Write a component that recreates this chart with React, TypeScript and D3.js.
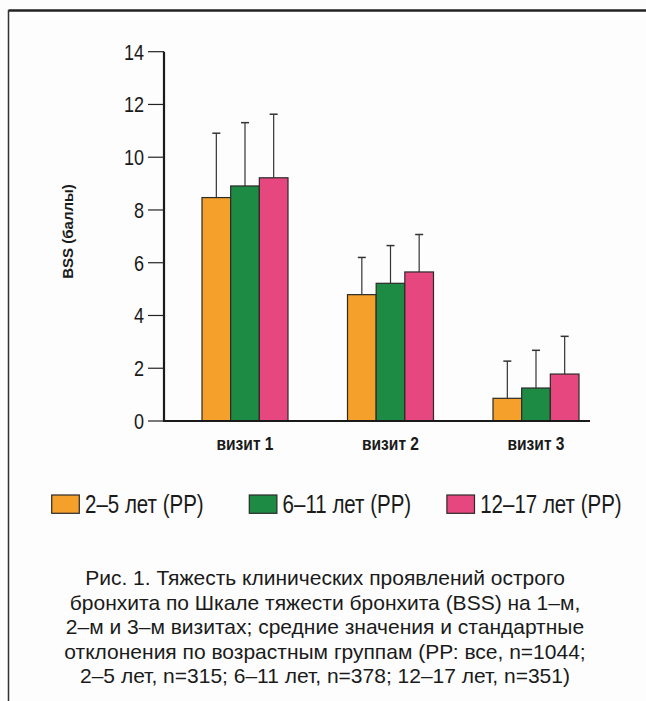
import * as d3 from "d3";

const VISITS = ["визит 1", "визит 2", "визит 3"];
const GROUPS = ["2–5 лет (РР)", "6–11 лет (РР)", "12–17 лет (РР)"];
const COLORS = ["#F4A02B", "#1E8B44", "#E6477E"];

// mean BSS per group, one value per visit
const MEANS = [
  [8.47, 4.79, 0.86],
  [8.91, 5.22, 1.25],
  [9.22, 5.65, 1.78],
];
// standard deviation per group, one value per visit
const SDS = [
  [2.44, 1.41, 1.41],
  [2.4, 1.43, 1.43],
  [2.41, 1.42, 1.43],
];

const Y_TICKS = [0, 2, 4, 6, 8, 10, 12, 14];

const CAPTION = [
  "Рис. 1. Тяжесть клинических проявлений острого",
  "бронхита по Шкале тяжести бронхита (BSS) на 1–м,",
  "2–м и 3–м визитах; средние значения и стандартные",
  "отклонения по возрастным группам (РР: все, n=1044;",
  "2–5 лет, n=315; 6–11 лет, n=378; 12–17 лет, n=351)",
];

const W = 646;
const H = 701;
const AXIS_X = 164;
const AXIS_END = 590;
const SANS = "'Liberation Sans', Arial, sans-serif";
const NARROW_K = 0.82; // no narrow font installed, squeeze horizontally

// condensed text helper
const Narrow = ({ x, y, anchor = "start", size, bold = false, dy, children }: any) => (
  <text
    transform={`translate(${x},${y}) scale(${NARROW_K},1)`}
    textAnchor={anchor}
    dy={dy}
    fontFamily={SANS}
    fontWeight={bold ? "bold" : "normal"}
    fontSize={size}
    fill="#1a1a1a"
  >
    {children}
  </text>
);

export default function App() {
  // scales
  const yScale = d3.scaleLinear().domain([0, 14]).range([421, 51.7]);
  const xScale = d3.scalePoint().domain(VISITS).range([245, 536]);
  const inner = d3.scaleBand().domain(GROUPS).range([-43, 43]);
  const bw = inner.bandwidth();

  const bars = GROUPS.flatMap((g, gi) =>
    VISITS.map((v, vi) => {
      const x = (xScale(v) ?? 0) + (inner(g) ?? 0);
      const m = MEANS[gi][vi];
      const top = yScale(m + SDS[gi][vi]);
      const cx = x + bw / 2;
      return (
        <g key={g + v}>
          <line x1={cx} x2={cx} y1={yScale(m)} y2={top} stroke="#333" strokeWidth={1.2} />
          <line x1={cx - 4} x2={cx + 4} y1={top} y2={top} stroke="#333" strokeWidth={1.5} />
          <rect
            x={x}
            y={yScale(m)}
            width={bw}
            height={yScale(0) - yScale(m)}
            fill={COLORS[gi]}
            stroke="#2a2a2a"
            strokeWidth={1.2}
          />
        </g>
      );
    })
  );

  const yTicks = Y_TICKS.map((t) => (
    <g key={t}>
      <line x1={148} x2={AXIS_X} y1={yScale(t)} y2={yScale(t)} stroke="#222" strokeWidth={1.2} />
      <Narrow x={144} y={yScale(t)} dy="0.36em" anchor="end" size={22}>
        {t}
      </Narrow>
    </g>
  ));

  const xLabels = VISITS.map((v) => (
    <Narrow key={v} x={xScale(v)} y={450} anchor="middle" size={19} bold>
      {v}
    </Narrow>
  ));

  const legend = GROUPS.map((g, i) => {
    const lx = 51.7 + i * 197.6;
    return (
      <g key={g}>
        <rect x={lx} y={495} width={27.6} height={18.3} fill={COLORS[i]} stroke="#2a2a2a" strokeWidth={1.2} />
        <Narrow x={lx + 33.3} y={513} size={25}>
          {g}
        </Narrow>
      </g>
    );
  });

  const caption = CAPTION.map((line, i) => (
    <text
      key={i}
      x={325}
      y={585 + i * 24.5}
      textAnchor="middle"
      fontFamily={SANS}
      fontSize={21}
      fill="#1a1a1a"
    >
      {line}
    </text>
  ));

  return (
    <svg
      width={W}
      height={H}
      style={{ position: "absolute", left: 0, top: 0, background: "#fdfdfd" }}
    >
      {/* frame */}
      <line x1={8.5} x2={W} y1={10.5} y2={10.5} stroke="#222" strokeWidth={2.5} />
      <line x1={8.5} x2={8.5} y1={10} y2={H} stroke="#333" strokeWidth={1.5} />

      {bars}
      <line x1={AXIS_X} x2={AXIS_X} y1={yScale(14)} y2={yScale(0)} stroke="#1a1a1a" strokeWidth={2.2} />
      <line x1={AXIS_X - 1} x2={AXIS_END} y1={yScale(0)} y2={yScale(0)} stroke="#1a1a1a" strokeWidth={2.2} />
      {yTicks}
      {xLabels}

      <text
        transform={`translate(73,231.5) rotate(-90)`}
        textAnchor="middle"
        fontFamily={SANS}
        fontWeight="bold"
        fontSize={15}
        fill="#1a1a1a"
      >
        BSS (баллы)
      </text>

      {legend}
      {caption}
    </svg>
  );
}
